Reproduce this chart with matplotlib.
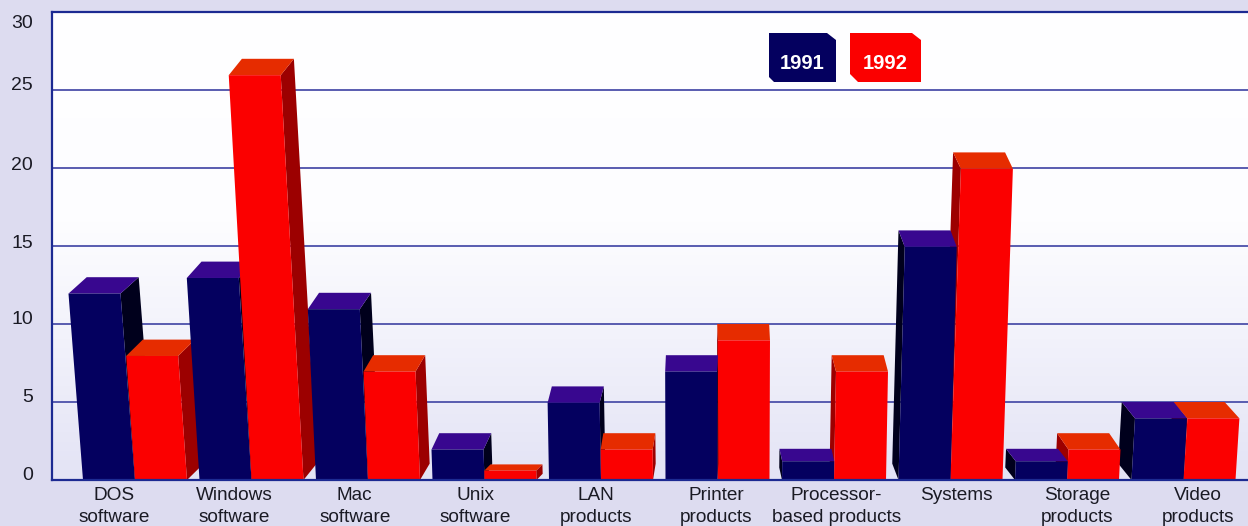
import numpy as np
import matplotlib
matplotlib.use('Agg')
import matplotlib.pyplot as plt
from matplotlib.colors import LinearSegmentedColormap
from matplotlib.patches import Polygon

categories = ['DOS\nsoftware', 'Windows\nsoftware', 'Mac\nsoftware', 'Unix\nsoftware', 'LAN\nproducts',
              'Printer\nproducts', 'Processor-\nbased products', 'Systems', 'Storage\nproducts', 'Video\nproducts']
sales_1991 = [13, 14, 12, 3, 6, 8, 2, 16, 2, 5]
sales_1992 = [9, 27, 8, 1, 3, 10, 8, 21, 3, 5]
y_ticks = [0, 5, 10, 15, 20, 25, 30]
y_label_nudge = [5, 4, 5, 3, 2, 4, -11]  # printed labels do not sit on their gridlines

W, H = 1248, 526
LEFT, TOP, BOTTOM = 52, 12, 480

# perspective of the bars, x axis is in picture pixels
X_START, PITCH, BAR_W = 83.0, 116.5, 52.0
X_VANISH = 716.0
LEAN = 0.0020
DEPTH_X = 0.03
DEPTH_Y = 1.05

BLUE = {'front': '#04005f', 'top': '#38078f', 'side': '#00001c'}
RED = {'front': '#fb0000', 'top': '#e62c00', 'side': '#9c0000'}

plt.rcParams['font.family'] = ['Liberation Sans', 'DejaVu Sans']


def project(x, centre, h, back=0.0):
    # every bar is sheared as a whole, its width stays the same
    px = x + (centre - X_VANISH) * LEAN * h
    if back > 0:
        px -= (centre - X_VANISH) * DEPTH_X
    return px, h + back


def draw_bar(ax, x, value, colors):
    d = min(DEPTH_Y, 0.4 * value)
    h = value - d
    fl, fr = x, x + BAR_W
    c = x + BAR_W / 2
    # the visible side is the one facing the vanishing point
    side = fr if c < X_VANISH else fl
    ax.add_patch(Polygon([project(side, c, 0), project(side, c, h), project(side, c, h, d), project(side, c, 0, d)],
                         fc=colors['side'], ec='none', zorder=3))
    ax.add_patch(Polygon([project(fl, c, h), project(fr, c, h), project(fr, c, h, d), project(fl, c, h, d)],
                         fc=colors['top'], ec='none', zorder=3))
    ax.add_patch(Polygon([project(fl, c, 0), project(fr, c, 0), project(fr, c, h), project(fl, c, h)],
                         fc=colors['front'], ec='none', zorder=3))


def main():
    fig = plt.figure(figsize=(W / 100, H / 100), dpi=100, facecolor='#dddcf0')
    ax = fig.add_axes([LEFT / W, 1 - BOTTOM / H, (W - LEFT) / W, (BOTTOM - TOP) / H])

    # wall fades from white to lavender towards the floor
    cmap = LinearSegmentedColormap.from_list('wall', [(0, '#ffffff'), (0.45, '#fdfdff'), (0.7, '#f2f2fb'), (1, '#e3e3f5')])
    ax.imshow(np.linspace(0, 1, 256)[:, None], cmap=cmap, aspect='auto', extent=(LEFT, W, 0, 30), zorder=0)
    ax.set_xlim(LEFT, W)
    ax.set_ylim(0, 30)

    for t in y_ticks[1:-1]:
        ax.axhline(t, color='#4c50aa', lw=1.3, zorder=1)

    bars = []
    for i in range(len(categories)):
        x = X_START + PITCH * i
        bars.append((x, sales_1991[i], BLUE))
        bars.append((x + BAR_W, sales_1992[i], RED))
    # bars nearest the vanishing point are drawn last
    bars.sort(key=lambda b: -abs(b[0] + BAR_W / 2 - X_VANISH))
    for x, value, colors in bars:
        draw_bar(ax, x, value, colors)

    ax.spines['right'].set_visible(False)
    for s in ['left', 'top', 'bottom']:
        ax.spines[s].set_color('#1c2a92')
        ax.spines[s].set_linewidth(1.6)
        ax.spines[s].set_zorder(5)

    ax.set_xticks([])
    ax.set_yticks([])
    for t, nudge in zip(y_ticks, y_label_nudge):
        y_px = BOTTOM - t * (BOTTOM - TOP) / 30 - nudge
        fig.text(33 / W, 1 - y_px / H, str(t), ha='right', va='center', fontsize=14, color='#1a1a24')

    for i, label in enumerate(categories):
        fig.text((114 + 120.4 * i) / W, 1 - 487 / H, label, ha='center', va='top', fontsize=13.7,
                 linespacing=1.42, color='#1a1a24')

    # legend tags
    for (x0, x1), label, colors, cut_left in [((769, 836), '1991', BLUE, 5), ((850, 921), '1992', RED, 8)]:
        y0, y1 = 33, 82
        pts = [(x0, y0), (x1 - 9, y0), (x1, y0 + 7), (x1, y1), (x0 + cut_left, y1), (x0, y1 - cut_left)]
        pts = [(px, (BOTTOM - py) * 30 / (BOTTOM - TOP)) for px, py in pts]
        ax.add_patch(Polygon(pts, fc=colors['front'], ec='none', zorder=4))
        fig.text((x0 + x1) / 2 / W, 1 - 63.5 / H, label, ha='center', va='center', fontsize=14.5,
                 fontweight='bold', color='white', zorder=6)

    fig.savefig('out.png', dpi=100, facecolor=fig.get_facecolor())
    plt.close(fig)


if __name__ == '__main__':
    main()
